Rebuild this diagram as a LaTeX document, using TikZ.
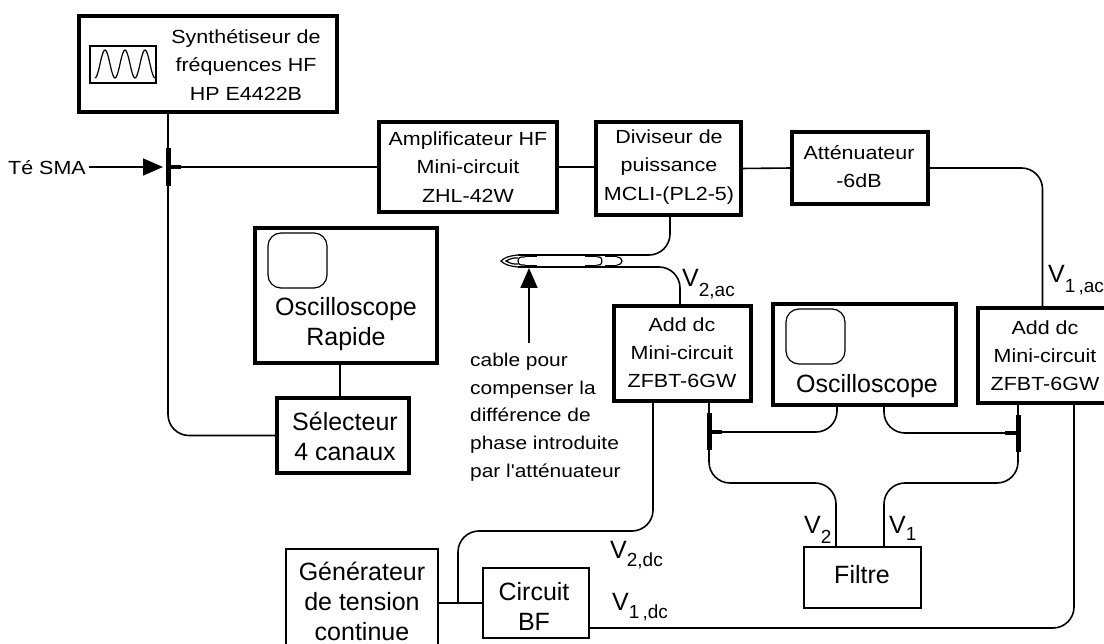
\documentclass[tikz,border=0pt]{standalone}
\usepackage{fontspec}
\setmainfont{Liberation Sans}
\newfontfamily\smf[FakeStretch=1.13]{Liberation Sans}
\usetikzlibrary{arrows.meta}
\newcommand\smtxt{\smf\fontsize{19}{28.2}\selectfont}
\newcommand\cabtxt{\smf\fontsize{18.5}{27.9}\selectfont}
\newcommand\lgtxt{\rmfamily\fontsize{25}{30}\selectfont}
\newcommand\subtxt{\rmfamily\fontsize{19}{20}\selectfont}
\newcommand\tbox[6]{%
  \pgfmathsetmacro\bw{#4-#2}\pgfmathsetmacro\bh{#5-#3}%
  \node[minimum width=\bw pt,minimum height=\bh pt,#6] (#1) at ({(#2+#4)/2},{(#3+#5)/2}) {};}
\newcommand\vlab[5]{% name, x, y(baseline), sub, drop
  \node[anchor=base west,inner sep=0pt,font=\lgtxt] (#1) at (#2,#3) {V\raisebox{-#5pt}{\subtxt #4}};}
\tikzset{
  heavy/.style={draw=black,line width=3.6pt,fill=white,inner sep=0pt,outer sep=0pt},
  light/.style={draw=black,line width=1.7pt,fill=white,inner sep=0pt,outer sep=0pt},
  screen/.style={draw=black,line width=1.2pt,rounded corners=13pt,fill=white,inner sep=0pt,outer sep=0pt},
  wire/.style={draw=black,line width=1.6pt},
  curvewire/.style={wire,rounded corners=21pt},
  teebar/.style={draw=black,line width=5pt},
  teestub/.style={draw=black,line width=4pt},
  smalltext/.style={font=\smtxt,align=center,inner sep=0pt},
  bigtext/.style={font=\lgtxt,align=center,inner sep=0pt},
  notetext/.style={font=\cabtxt,align=left,inner sep=0pt},
  ptr/.style={wire,-{Triangle[length=20pt,width=17pt]}},
  shield/.style={draw=black,line width=3pt},
  ferr/.style={draw=black,line width=1.2pt},
}
\begin{document}
\begin{tikzpicture}[x=1pt,y=-1pt]
\useasboundingbox (0,0) rectangle (1104,644);
\clip (0,0) rectangle (1104,644);
\fill[white] (0,0) rectangle (1104,644);
% boxes
\tbox{syn}{79}{16}{337}{112}{heavy}
\tbox{wave}{90}{46}{156}{83}{light}
\tbox{amp}{379}{122}{557}{212}{heavy}
\tbox{div}{596}{122}{741}{215}{heavy}
\tbox{att}{792}{132}{928}{204}{heavy}
\tbox{osr}{255}{228}{437}{363}{heavy}
\tbox{scr}{268}{233}{327}{288}{screen}
\tbox{sel}{277}{398}{409}{473}{heavy}
\tbox{addL}{614}{306}{751}{401}{heavy}
\tbox{osc}{773}{304}{956}{405}{heavy}
\tbox{scb}{786}{309}{845}{364}{screen}
\tbox{addR}{978}{308}{1107}{403}{heavy}
\tbox{fil}{804}{547}{921}{608}{light}
\tbox{gen}{286}{549}{438}{657}{light}
\tbox{bf}{483}{568}{589}{638}{light}
% waveform
\draw[ferr] plot[domain=95:155,samples=61,smooth] (\x,{64-14*cos(18*(\x-105))});
% texts
\node[smalltext] (tsyn) at (246,65) {Synthétiseur de\\fréquences HF\\HP E4422B};
\node[smalltext] (tamp) at (468,167) {Amplificateur HF\\Mini-circuit\\ZHL-42W};
\node[smalltext] (tdiv) at (669,167) {Diviseur de\\puissance\\MCLI-(PL2-5)};
\node[smalltext] (tatt) at (859,167) {Atténuateur\\-6dB};
\node[smalltext] (taddL) at (682,353) {Add dc\\Mini-circuit\\ZFBT-6GW};
\node[smalltext] (taddR) at (1045,356) {Add dc\\Mini-circuit\\ZFBT-6GW};
\node[smalltext] (tsma) at (47,168) {Té SMA};
\node[bigtext] (tosr) at (346,324) {Oscilloscope\\Rapide};
\node[bigtext] (tsel) at (345,436) {Sélecteur\\4 canaux};
\node[bigtext] (tosc) at (867,386) {Oscilloscope};
\node[bigtext] (tfil) at (862,575) {Filtre};
\node[bigtext] (tgen) at (362,601) {Générateur\\de tension\\continue};
\node[bigtext] (tbf) at (534,606) {Circuit\\BF};
\node[notetext,anchor=north west] (tcab) at (470,352.5) {cable pour\\compenser la\\différence de\\phase introduite\\par l'atténuateur};
% V labels
\vlab{v1ac}{1048}{283}{1\,,ac}{10}
\vlab{v2ac}{682}{287}{2,ac}{10}
\vlab{v2dc}{610}{558}{2,dc}{9}
\vlab{v1dc}{612}{610}{1\,,dc}{8}
\vlab{v2}{804}{533}{2}{10}
\vlab{v1}{889}{533}{1}{7}
% named free ends
\coordinate (t1) at (168,167);
\coordinate (t1a) at (168,148);
\coordinate (t1b) at (168,186);
\coordinate (t1s) at (181,167);
\coordinate (t1i) at (163,167);
\coordinate (tL) at (709,432);
\coordinate (tLa) at (709,413);
\coordinate (tLb) at (709,450);
\coordinate (tLs) at (722,432);
\coordinate (tR) at (1018,433);
\coordinate (tRa) at (1018,415);
\coordinate (tRb) at (1018,452);
\coordinate (tRs) at (1005,433);
\coordinate (oscA) at (837,405);
\coordinate (oscB) at (884,405);
\coordinate (filA) at (836,547);
\coordinate (filB) at (884,547);
\coordinate (addRo) at (1074,403);
\coordinate (addRi) at (1018,403);
\coordinate (addLo) at (653,401);
\coordinate (addLi) at (709,401);
\coordinate (bfo) at (589,628);
\coordinate (j) at (458,603);
\coordinate (divo) at (670,215);
\coordinate (addLn) at (680,306);
\coordinate (cabT) at (518,255);
\coordinate (cabB) at (518,267);
\coordinate (ptrS) at (529,343);
\coordinate (ptrE) at (529,268);
\coordinate (lk) at (340,300);
\coordinate (rowm) at (780,483);
\coordinate (rown) at (940,483);
\coordinate (rowd) at (550,531);
% HF chain
\draw[wire] (syn.south -| t1) -- (t1a);
\draw[teebar] (t1a) -- (t1b);
\draw[teestub] (t1) -- (t1s);
\draw[ptr] (tsma.east |- t1i) ++(3,0) -- (t1i);
\draw[wire] (t1s) -- (amp.west);
\draw[wire] (amp.east) -- (div.west |- amp.east);
\draw[wire] (div.east) -- (att.west);
\draw[curvewire] (t1b) |- (sel.west);
\draw[wire] (osr.south -| lk) -- (sel.north -| lk);
\draw[curvewire] (att.east) -| (addR.north);
% cable
\draw[curvewire] (divo) |- (cabT);
\draw[curvewire] (addLn) |- (cabB);
\draw[shield] (525,255.5) -- (537,255.5) (525,266.5) -- (537,266.5)
              (585,255.5) -- (597,255.5) (585,266.5) -- (597,266.5)
              (605,255.5) -- (617,255.5) (605,266.5) -- (617,266.5);
\draw[ferr] (cabT) .. controls (508,256) and (504,258) .. (501,261) .. controls (504,264) and (508,266) .. (cabB);
\draw[ferr] (518,258) .. controls (512,258) .. (506,261) .. controls (512,264) .. (518,264);
\draw[ferr] (525,257) .. controls (519,257) .. (518,261) .. controls (519,265) .. (525,265);
\draw[ferr] (597,257) .. controls (601,257) .. (602,261) .. controls (601,265) .. (597,265);
\draw[ferr] (617,257) .. controls (621,258) .. (622,261) .. controls (621,264) .. (617,265);
\draw[ptr] (ptrS) -- (ptrE);
% add dc / tees
\draw[wire] (addLi) -- (tLa);
\draw[teebar] (tLa) -- (tLb);
\draw[teestub] (tL) -- (tLs);
\draw[wire] (addRi) -- (tRa);
\draw[teebar] (tRa) -- (tRb);
\draw[teestub] (tR) -- (tRs);
\draw[curvewire] (oscA) |- (tLs);
\draw[curvewire] (oscB) |- (tRs);
\draw[curvewire] (tLb) |- (rowm) -| (filA);
\draw[curvewire] (tRb) |- (rown) -| (filB);
% dc
\draw[curvewire] (addRo) |- (bfo);
\draw[curvewire] (addLo) |- (rowd) -| (j);
\draw[wire] (gen.east) -- (bf.west);
\end{tikzpicture}
\end{document}
